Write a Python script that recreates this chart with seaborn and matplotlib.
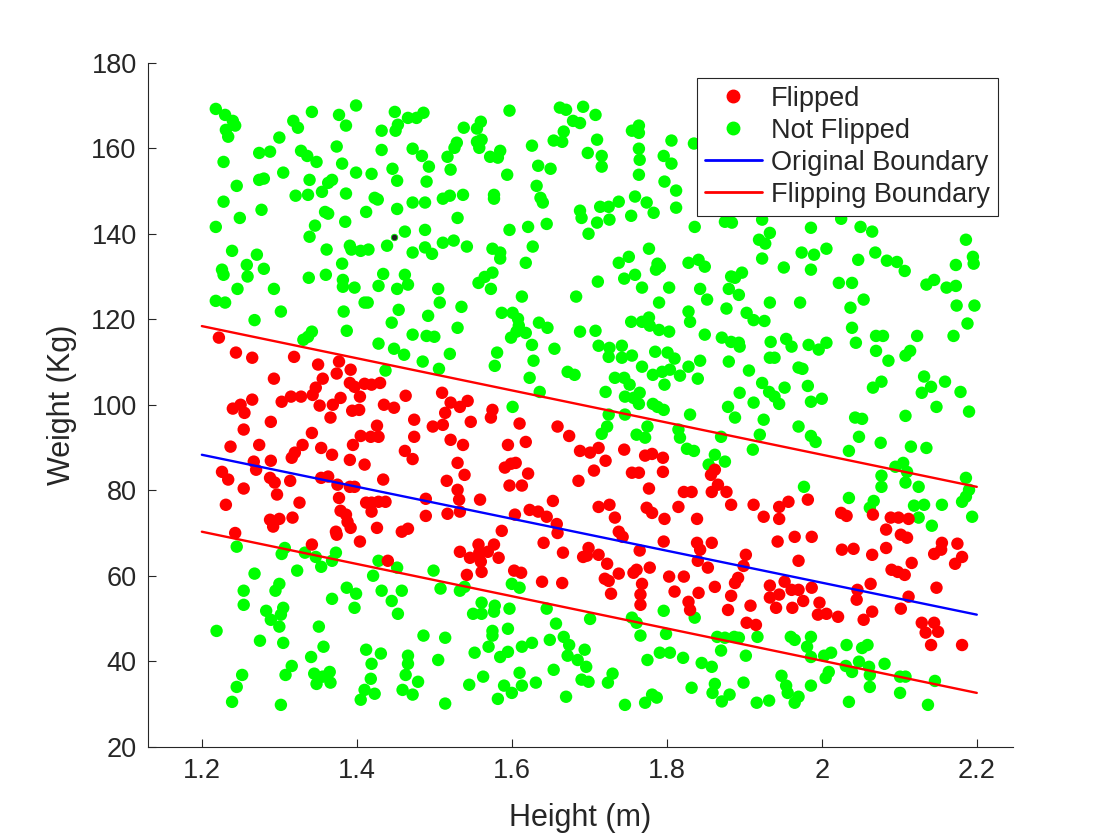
import seaborn as sns
import matplotlib.pyplot as plt
from matplotlib.lines import Line2D
import pandas as pd

# Points: (height m, weight kg)
flipped = [
    (1.222, 115.7), (1.244, 112.2), (1.265, 111.0), (1.319, 111.2), (1.350, 109.4), (1.377, 110.1),
    (1.374, 107.3), (1.392, 108.2), (1.356, 106.1), (1.293, 106.1), (1.391, 105.1), (1.397, 104.2),
    (1.410, 104.9), (1.347, 104.0), (1.343, 102.3), (1.315, 101.9), (1.328, 101.9), (1.303, 100.7),
    (1.265, 101.2), (1.250, 100.0), (1.240, 99.1), (1.255, 98.1), (1.404, 101.9), (1.352, 99.8),
    (1.369, 100.0), (1.379, 101.6), (1.394, 98.6), (1.403, 98.8), (1.366, 97.0), (1.289, 96.0),
    (1.254, 94.2), (1.342, 93.4), (1.405, 92.7), (1.330, 90.6), (1.320, 88.8), (1.316, 87.6),
    (1.354, 89.9), (1.368, 88.3), (1.395, 90.6), (1.391, 87.1), (1.274, 90.6), (1.237, 90.2),
    (1.267, 86.7), (1.270, 84.8), (1.289, 86.9), (1.226, 84.3), (1.234, 82.5), (1.288, 82.9),
    (1.294, 81.8), (1.314, 82.2), (1.354, 82.9), (1.363, 83.2), (1.375, 81.3), (1.391, 80.8),
    (1.397, 80.8), (1.410, 86.0), (1.254, 80.4), (1.297, 79.0), (1.377, 78.2), (1.231, 76.6),
    (1.326, 77.1), (1.379, 75.2), (1.386, 74.3), (1.412, 77.1), (1.288, 73.1), (1.300, 73.3),
    (1.317, 73.6), (1.292, 71.5), (1.243, 70.0), (1.342, 67.3), (1.373, 70.3), (1.374, 69.6),
    (1.392, 71.2), (1.404, 68.0), (1.388, 72.6),
    (1.430, 105.1), (1.419, 104.7), (1.463, 102.1), (1.435, 100.0), (1.448, 99.3), (1.510, 102.8),
    (1.521, 100.5), (1.533, 99.5), (1.543, 100.9), (1.514, 98.1), (1.474, 96.5), (1.498, 94.9),
    (1.511, 95.3), (1.547, 96.0), (1.575, 98.8), (1.573, 97.0), (1.610, 95.6), (1.659, 94.9),
    (1.674, 92.7), (1.688, 89.2), (1.426, 95.1), (1.428, 92.5), (1.418, 92.5), (1.474, 92.5),
    (1.521, 91.8), (1.537, 90.6), (1.595, 90.6), (1.618, 91.3), (1.462, 89.2), (1.472, 87.3),
    (1.530, 86.4), (1.591, 85.3), (1.599, 86.2), (1.605, 86.4), (1.539, 83.6), (1.621, 83.9),
    (1.597, 81.1), (1.613, 81.1), (1.434, 82.5), (1.516, 82.2), (1.530, 80.1), (1.686, 82.2),
    (1.489, 78.0), (1.532, 77.8), (1.559, 77.8), (1.653, 77.5), (1.419, 77.1), (1.428, 77.3),
    (1.437, 77.3), (1.419, 75.0), (1.489, 74.0), (1.517, 74.5), (1.533, 75.0), (1.604, 74.3),
    (1.623, 75.4), (1.634, 75.0), (1.645, 73.8),
    (1.426, 71.2), (1.458, 70.3), (1.466, 71.0), (1.587, 70.5), (1.659, 70.0), (1.658, 72.1),
    (1.641, 67.7), (1.666, 65.4), (1.692, 64.4), (1.533, 65.6), (1.546, 64.2), (1.557, 67.3),
    (1.558, 65.4), (1.560, 63.3), (1.577, 67.3), (1.569, 65.6), (1.583, 64.2), (1.542, 60.2),
    (1.561, 60.9), (1.603, 61.2), (1.612, 60.7), (1.639, 58.6), (1.665, 58.3), (1.440, 63.5),
    (1.701, 88.8), (1.712, 89.9), (1.721, 86.9), (1.706, 84.6), (1.745, 89.5), (1.772, 88.1),
    (1.781, 88.5), (1.795, 87.6), (1.795, 84.3), (1.755, 84.1), (1.764, 84.1), (1.862, 84.8),
    (1.857, 83.6), (1.866, 81.3), (1.877, 79.6), (1.858, 79.6), (1.777, 80.4), (1.822, 79.6),
    (1.832, 79.6), (1.883, 76.6), (1.912, 76.6), (1.945, 76.1), (1.957, 77.3), (1.712, 76.1),
    (1.726, 76.6), (1.774, 75.9), (1.781, 74.7), (1.815, 76.1), (1.733, 73.6), (1.797, 73.3),
    (1.839, 73.3), (1.925, 73.8), (1.945, 73.3),
    (1.738, 70.3), (1.743, 69.1), (1.796, 68.0), (1.839, 67.7), (1.858, 67.7), (1.843, 66.1),
    (1.840, 63.5), (1.853, 61.9), (1.902, 64.9), (1.899, 62.3), (1.943, 68.0), (1.965, 69.1),
    (1.970, 63.5), (1.699, 66.5), (1.697, 64.7), (1.712, 64.9), (1.765, 65.9), (1.723, 62.8),
    (1.778, 61.9), (1.738, 60.5), (1.757, 60.7), (1.761, 61.4), (1.720, 59.3), (1.725, 58.8),
    (1.803, 59.8), (1.822, 59.8), (1.768, 58.1), (1.862, 57.4), (1.888, 58.3), (1.892, 59.5),
    (1.933, 57.7), (1.952, 58.6), (1.961, 56.7), (1.970, 56.7), (1.728, 55.8), (1.766, 55.6),
    (1.810, 56.3), (1.841, 56.0), (1.883, 55.3), (1.933, 54.9), (1.945, 55.6), (1.766, 53.2),
    (1.828, 53.9), (1.830, 52.0), (1.879, 52.0), (1.908, 53.0), (1.941, 52.5), (1.962, 52.5),
    (1.903, 49.0), (1.915, 48.5),
    (1.982, 77.8), (2.025, 74.7), (2.032, 74.0), (2.066, 74.3), (2.089, 73.6), (2.099, 73.6),
    (2.112, 73.3), (2.083, 70.8), (1.987, 69.1), (2.026, 66.1), (2.041, 66.3), (2.065, 64.9),
    (2.083, 66.5), (2.102, 69.6), (2.110, 68.9), (2.155, 67.7), (2.154, 66.1), (2.145, 65.1),
    (2.175, 67.5), (2.181, 64.4), (2.172, 62.8), (2.116, 63.0), (2.090, 61.4), (2.098, 60.9),
    (2.107, 60.2), (1.987, 57.2), (1.976, 54.1), (1.997, 53.7), (1.995, 50.9), (2.006, 51.1),
    (2.021, 50.4), (2.046, 56.7), (2.045, 54.4), (2.063, 58.1), (2.065, 51.6), (2.054, 49.7),
    (2.102, 52.3), (2.112, 55.1), (2.148, 57.2), (2.129, 49.0), (2.134, 46.7), (2.145, 49.0),
    (2.150, 46.9), (2.141, 43.8), (2.181, 43.8),
]

not_flipped = [
    # upper left
    (1.218, 169.2), (1.230, 167.8), (1.240, 166.4), (1.243, 165.3), (1.231, 164.3), (1.234, 162.7),
    (1.300, 162.5), (1.318, 166.4), (1.324, 164.8), (1.342, 168.5), (1.377, 167.8), (1.386, 165.3),
    (1.399, 170.0), (1.228, 156.8), (1.274, 158.9), (1.288, 159.2), (1.305, 154.3), (1.328, 159.4),
    (1.336, 158.2), (1.348, 156.8), (1.374, 160.4), (1.381, 156.4), (1.399, 154.3), (1.245, 151.2),
    (1.274, 152.6), (1.280, 152.9), (1.339, 152.6), (1.363, 151.9), (1.368, 152.6), (1.355, 149.8),
    (1.321, 148.9), (1.337, 149.1), (1.386, 149.4), (1.228, 147.5), (1.277, 145.6), (1.249, 143.7),
    (1.218, 141.6), (1.359, 145.1), (1.363, 144.7), (1.385, 142.8), (1.412, 145.1), (1.346, 141.9),
    (1.339, 139.3), (1.239, 136.0), (1.271, 135.1), (1.258, 132.7), (1.226, 131.6), (1.228, 130.4),
    (1.259, 130.0), (1.280, 131.8), (1.361, 136.3), (1.391, 137.2), (1.393, 136.3), (1.405, 136.0),
    (1.381, 133.0), (1.360, 130.4), (1.338, 129.7), (1.382, 129.2), (1.382, 127.6), (1.397, 127.4),
    (1.246, 127.1), (1.293, 127.1),
    (1.218, 124.3), (1.230, 123.9), (1.268, 119.8), (1.302, 121.8), (1.383, 121.8), (1.387, 117.3),
    (1.331, 115.2), (1.337, 115.9), (1.342, 117.1), (1.410, 123.9),
    # lower left
    (1.245, 66.8), (1.307, 66.5), (1.303, 65.1), (1.333, 65.4), (1.347, 64.4), (1.354, 62.1),
    (1.373, 65.4), (1.368, 63.5), (1.268, 60.5), (1.323, 61.2), (1.300, 58.1), (1.295, 56.5),
    (1.254, 56.5), (1.254, 53.2), (1.283, 51.8), (1.305, 52.5), (1.302, 50.9), (1.289, 49.7),
    (1.300, 48.1), (1.387, 57.2), (1.399, 55.8), (1.368, 54.6), (1.397, 52.5), (1.351, 48.1),
    (1.219, 47.1), (1.275, 44.8), (1.305, 44.3), (1.357, 43.4), (1.341, 41.0), (1.316, 38.9),
    (1.308, 36.8), (1.252, 36.8), (1.245, 34.0), (1.239, 30.5), (1.302, 29.8), (1.345, 37.1),
    (1.356, 36.4), (1.365, 37.5), (1.366, 35.0), (1.348, 34.7), (1.412, 42.7), (1.405, 31.0),
    (1.410, 33.3),
    # upper middle
    (1.449, 168.5), (1.466, 167.1), (1.477, 167.1), (1.486, 168.3), (1.453, 165.5), (1.450, 164.1),
    (1.432, 164.1), (1.597, 168.8), (1.538, 164.8), (1.555, 164.6), (1.560, 166.2), (1.662, 169.5),
    (1.670, 169.0), (1.679, 166.4), (1.688, 165.9), (1.667, 163.9), (1.654, 161.8), (1.665, 161.5),
    (1.692, 169.7), (1.432, 159.6), (1.472, 159.9), (1.484, 158.2), (1.493, 155.7), (1.517, 158.0),
    (1.526, 160.1), (1.529, 161.3), (1.521, 155.0), (1.555, 161.5), (1.561, 162.0), (1.558, 160.1),
    (1.572, 158.0), (1.582, 157.8), (1.585, 159.4), (1.594, 153.8), (1.626, 160.6), (1.634, 155.9),
    (1.650, 155.2), (1.632, 151.2), (1.637, 148.4), (1.640, 147.3), (1.419, 154.0), (1.446, 155.2),
    (1.452, 152.4), (1.490, 152.2), (1.423, 148.4), (1.427, 148.0), (1.452, 145.8), (1.472, 147.3),
    (1.488, 147.3), (1.511, 148.2), (1.520, 148.9), (1.537, 149.1), (1.577, 149.1), (1.577, 148.2),
    (1.530, 143.7), (1.462, 140.5), (1.488, 140.9), (1.439, 137.2), (1.415, 136.3), (1.472, 135.6),
    (1.488, 136.8), (1.497, 135.3), (1.511, 137.9), (1.525, 138.4), (1.542, 137.0), (1.575, 136.5),
    (1.585, 135.6), (1.585, 134.2), (1.597, 140.9), (1.621, 141.6), (1.645, 142.3), (1.627, 137.0),
    (1.618, 133.2), (1.688, 145.4), (1.690, 143.7), (1.434, 130.6), (1.462, 130.4), (1.466, 128.1),
    (1.428, 127.8), (1.452, 127.1), (1.505, 127.1), (1.557, 128.5), (1.565, 129.9), (1.575, 130.9),
    (1.573, 127.1),
    (1.414, 123.9), (1.454, 122.2), (1.445, 119.2), (1.492, 120.8), (1.507, 123.9), (1.535, 122.9),
    (1.613, 125.3), (1.683, 125.3), (1.472, 116.4), (1.490, 116.1), (1.500, 115.9), (1.530, 118.0),
    (1.428, 114.3), (1.448, 113.1), (1.461, 111.7), (1.485, 110.1), (1.506, 108.4), (1.520, 111.9),
    (1.437, 108.0), (1.587, 121.5), (1.601, 121.5), (1.608, 120.1), (1.609, 118.5), (1.606, 117.1),
    (1.599, 115.7), (1.618, 116.8), (1.635, 119.2), (1.646, 118.0), (1.688, 117.1), (1.626, 114.0),
    (1.655, 113.1), (1.628, 110.3), (1.581, 112.2), (1.578, 109.1), (1.623, 106.3), (1.636, 103.0),
    (1.672, 107.7), (1.681, 107.0), (1.601, 99.5),
    # lower middle
    (1.428, 63.5), (1.452, 61.9), (1.421, 60.0), (1.432, 56.5), (1.458, 56.5), (1.445, 54.1),
    (1.453, 51.1), (1.499, 61.2), (1.508, 57.0), (1.533, 56.5), (1.539, 57.4), (1.600, 58.1),
    (1.610, 57.2), (1.561, 53.7), (1.578, 53.0), (1.577, 51.6), (1.550, 51.1), (1.561, 51.1),
    (1.597, 52.3), (1.645, 52.3), (1.657, 48.8), (1.575, 47.1), (1.575, 46.0), (1.595, 47.6),
    (1.570, 43.4), (1.585, 41.0), (1.595, 42.2), (1.613, 43.4), (1.626, 44.3), (1.552, 42.0),
    (1.486, 46.0), (1.514, 45.5), (1.505, 40.3), (1.466, 41.3), (1.466, 39.4), (1.463, 36.8),
    (1.479, 35.2), (1.459, 33.3), (1.472, 32.2), (1.431, 41.8), (1.419, 39.4), (1.418, 35.9),
    (1.423, 32.4), (1.514, 30.1), (1.545, 34.5), (1.563, 36.4), (1.590, 34.3), (1.600, 32.6),
    (1.613, 34.3), (1.610, 37.3), (1.631, 35.0), (1.582, 31.2), (1.649, 45.0), (1.654, 38.0),
    (1.667, 45.7), (1.674, 43.8), (1.672, 41.3), (1.685, 40.3), (1.690, 35.7), (1.670, 31.7),
    (1.694, 42.7),
    # upper right
    (1.708, 167.8), (1.710, 162.0), (1.698, 158.9), (1.716, 158.2), (1.716, 155.7), (1.755, 164.1),
    (1.764, 165.3), (1.764, 163.6), (1.764, 159.9), (1.765, 157.3), (1.764, 153.8), (1.806, 161.8),
    (1.835, 161.1), (1.796, 158.2), (1.806, 156.4), (1.797, 152.2), (1.812, 150.1), (1.812, 146.1),
    (1.759, 148.7), (1.774, 147.3), (1.783, 144.9), (1.754, 144.2), (1.714, 146.3), (1.725, 146.3),
    (1.738, 147.5), (1.726, 143.3), (1.710, 142.6), (1.699, 140.0), (1.836, 141.6), (1.875, 142.8),
    (1.884, 142.6), (1.923, 143.3), (1.933, 140.2), (1.919, 138.6), (1.927, 137.7), (1.923, 134.2),
    (1.951, 132.1), (1.974, 135.6), (1.777, 136.5), (1.751, 134.6), (1.738, 133.2), (1.745, 129.5),
    (1.759, 130.4), (1.788, 133.0), (1.791, 132.3), (1.786, 131.6), (1.828, 133.2), (1.841, 133.9),
    (1.849, 132.3), (1.883, 130.0), (1.897, 130.9), (1.888, 129.7), (1.711, 128.8), (1.768, 127.4),
    (1.803, 127.4), (1.843, 127.1), (1.880, 127.1),
    (1.790, 123.9), (1.828, 121.8), (1.830, 119.4), (1.852, 124.6), (1.877, 122.5), (1.893, 125.7),
    (1.903, 121.5), (1.912, 119.8), (1.926, 119.6), (1.933, 123.9), (1.972, 123.9), (1.708, 117.3),
    (1.754, 119.4), (1.768, 119.4), (1.777, 120.4), (1.778, 118.5), (1.790, 117.5), (1.803, 117.1),
    (1.849, 116.4), (1.871, 115.7), (1.883, 114.7), (1.893, 114.5), (1.894, 113.6), (1.934, 114.7),
    (1.954, 115.4), (1.961, 113.6), (1.712, 113.8), (1.726, 113.3), (1.742, 113.8), (1.755, 111.5),
    (1.725, 111.2), (1.742, 111.0), (1.785, 112.4), (1.801, 112.2), (1.810, 110.8), (1.843, 110.3),
    (1.828, 108.9), (1.817, 106.8), (1.804, 108.2), (1.794, 107.7), (1.782, 107.0), (1.768, 108.9),
    (1.840, 106.1), (1.880, 110.1), (1.906, 108.0), (1.933, 111.0), (1.939, 111.0), (1.970, 108.7),
    (1.733, 106.3), (1.745, 106.3), (1.752, 104.7), (1.797, 104.7), (1.721, 103.0), (1.746, 101.9),
    (1.757, 101.6), (1.765, 102.8), (1.764, 100.2), (1.782, 100.2), (1.796, 98.8), (1.788, 99.5),
    (1.923, 105.1), (1.932, 103.0), (1.952, 104.0), (1.939, 101.9), (1.945, 100.2), (1.912, 100.5),
    (1.894, 102.8), (1.879, 99.5), (1.888, 97.0), (1.925, 96.5), (1.830, 97.7), (1.725, 97.7),
    (1.746, 97.7), (1.723, 94.9), (1.716, 93.2), (1.775, 94.9), (1.761, 93.0), (1.772, 92.3),
    (1.815, 94.2), (1.817, 92.3), (1.870, 92.5), (1.920, 93.0), (1.970, 94.9), (1.826, 89.7),
    (1.835, 89.2), (1.911, 89.5), (1.862, 88.3), (1.875, 86.7), (1.854, 86.0),
    # lower right
    (1.701, 49.9), (1.755, 50.2), (1.761, 49.0), (1.796, 51.8), (1.836, 50.2), (1.766, 46.0),
    (1.799, 46.4), (1.865, 45.7), (1.875, 45.5), (1.887, 45.7), (1.893, 45.5), (1.917, 45.7),
    (1.960, 45.7), (1.965, 45.0), (1.870, 42.5), (1.902, 41.3), (1.696, 38.7), (1.699, 35.2),
    (1.730, 37.1), (1.724, 35.0), (1.775, 40.3), (1.791, 42.0), (1.804, 42.0), (1.821, 40.8),
    (1.845, 39.6), (1.858, 38.7), (1.832, 33.8), (1.862, 34.7), (1.859, 32.6), (1.881, 32.2),
    (1.871, 30.6), (1.899, 35.0), (1.948, 36.6), (1.954, 34.3), (1.956, 32.6), (1.970, 31.7),
    (1.965, 30.3), (1.916, 30.3), (1.932, 30.8), (1.746, 29.8), (1.772, 30.3), (1.781, 32.2),
    (1.787, 31.5),
    # far right
    (1.986, 141.4), (2.025, 143.5), (2.050, 141.6), (2.065, 140.5), (2.006, 136.5), (1.990, 135.1),
    (1.986, 131.6), (2.047, 133.9), (2.069, 135.6), (2.084, 133.7), (2.097, 133.4), (2.107, 131.3),
    (2.186, 138.6), (2.195, 134.6), (2.196, 133.0), (2.173, 132.7), (2.022, 128.5), (2.039, 128.5),
    (2.145, 129.2), (2.135, 128.1), (2.161, 127.4), (2.173, 127.8),
    (2.037, 122.7), (2.054, 124.6), (2.174, 123.2), (2.197, 123.2), (2.188, 119.0), (2.170, 116.1),
    (2.123, 116.1), (2.039, 118.0), (2.070, 116.1), (2.079, 116.1), (2.044, 114.5), (1.983, 114.0),
    (1.996, 112.9), (2.006, 114.5), (2.070, 112.6), (2.086, 110.3), (2.108, 111.5), (2.114, 112.6),
    (1.975, 108.4), (1.982, 104.4), (1.986, 100.7), (2.000, 101.4), (2.066, 104.0), (2.077, 105.4),
    (2.132, 106.6), (2.141, 104.2), (2.129, 102.8), (2.159, 105.4), (2.179, 103.0), (2.148, 99.5),
    (2.190, 98.4), (2.108, 97.4), (2.043, 97.0), (2.052, 96.7), (1.986, 92.7), (1.992, 91.3),
    (2.048, 92.5), (2.076, 91.1), (2.035, 89.2), (2.115, 90.2), (2.135, 89.9), (2.095, 85.5),
    (2.105, 86.4), (2.110, 84.3), (2.077, 83.4), (2.077, 80.8), (2.108, 81.8), (2.125, 80.8),
    (2.186, 82.9), (2.190, 80.1), (2.186, 78.5), (2.181, 77.3), (1.977, 80.8), (2.035, 78.2),
    (2.067, 77.5), (2.062, 75.9), (2.119, 76.4), (2.132, 76.6), (2.155, 76.6), (2.125, 73.6),
    (2.194, 73.8), (2.142, 71.7),
    (1.986, 45.7), (1.981, 43.4), (1.986, 41.0), (2.003, 41.3), (2.012, 42.0), (2.032, 43.8),
    (2.052, 43.1), (2.059, 43.8), (2.031, 38.9), (2.039, 37.5), (2.048, 39.9), (2.061, 38.7),
    (2.062, 36.8), (2.081, 39.4), (2.009, 37.5), (2.005, 36.1), (1.986, 34.3), (2.062, 34.0),
    (2.035, 30.5), (2.101, 36.4), (2.108, 36.4), (2.101, 32.6), (2.146, 35.4), (2.137, 29.8),
]

# the single highlighted (data tip) point
data_tip = (1.448, 139.3)

# boundary end points
boundary_height = [1.2, 2.2]
original_weight = [88.3, 50.9]
flip_upper_weight = [118.4, 80.8]
flip_lower_weight = [70.3, 32.6]

x_ticks = [1.2, 1.4, 1.6, 1.8, 2.0, 2.2]
x_tick_labels = ['1.2', '1.4', '1.6', '1.8', '2', '2.2']
y_ticks = [20, 40, 60, 80, 100, 120, 140, 160, 180]

rows = [(h, w, 'Not Flipped') for h, w in not_flipped] + [(h, w, 'Flipped') for h, w in flipped]
df = pd.DataFrame(rows, columns=['Height', 'Weight', 'Label'])

sns.set_style('ticks')
plt.rcParams['font.family'] = ['Liberation Sans', 'DejaVu Sans']

RED = (1, 0, 0)
GREEN = (0, 1, 0)
BLUE = (0, 0, 1)
DARK = '#262626'

fig = plt.figure(figsize=(11.2, 8.4), dpi=100)
ax = fig.add_axes([0.132, 0.111, 0.7723, 0.8143])

sns.scatterplot(data=df, x='Height', y='Weight', hue='Label',
                palette={'Flipped': RED, 'Not Flipped': GREEN},
                s=80, linewidth=0, legend=False, ax=ax, zorder=2)
ax.scatter([data_tip[0]], [data_tip[1]], s=22, color='#222222',
           edgecolor=GREEN, linewidth=0.6, zorder=3)

sns.lineplot(x=boundary_height, y=original_weight, color=BLUE, lw=1.7, ax=ax, zorder=4)
sns.lineplot(x=boundary_height, y=flip_upper_weight, color=RED, lw=1.7, ax=ax, zorder=4)
sns.lineplot(x=boundary_height, y=flip_lower_weight, color=RED, lw=1.7, ax=ax, zorder=4)

ax.set_xlim(1.1303, 2.2465)
ax.set_ylim(20, 180)
ax.set_xticks(x_ticks)
ax.set_xticklabels(x_tick_labels)
ax.set_yticks(y_ticks)
ax.tick_params(direction='in', length=6, width=0.8, color=DARK,
               labelcolor=DARK, labelsize=19.5, pad=8)
ax.set_xlabel('Height (m)', fontsize=22, color=DARK, labelpad=14)
ax.set_ylabel('Weight (Kg)', fontsize=22, color=DARK, labelpad=10)
sns.despine(ax=ax)
for side in ['left', 'bottom']:
    ax.spines[side].set_color(DARK)
    ax.spines[side].set_linewidth(0.8)

handles = [
    Line2D([], [], ls='none', marker='o', ms=9, color=RED, label='Flipped'),
    Line2D([], [], ls='none', marker='o', ms=9, color=GREEN, label='Not Flipped'),
    Line2D([], [], color=BLUE, lw=2, label='Original Boundary'),
    Line2D([], [], color=RED, lw=2, label='Flipping Boundary'),
]
leg = ax.legend(handles=handles, loc='upper right', bbox_to_anchor=(0.983, 0.978),
                borderaxespad=0, fontsize=19.5, frameon=True, fancybox=False,
                framealpha=1, edgecolor=DARK, handlelength=2.1, handletextpad=0.35,
                labelspacing=0.22, borderpad=0.3)
leg.get_frame().set_linewidth(0.8)

fig.savefig('out.png', dpi=100)
